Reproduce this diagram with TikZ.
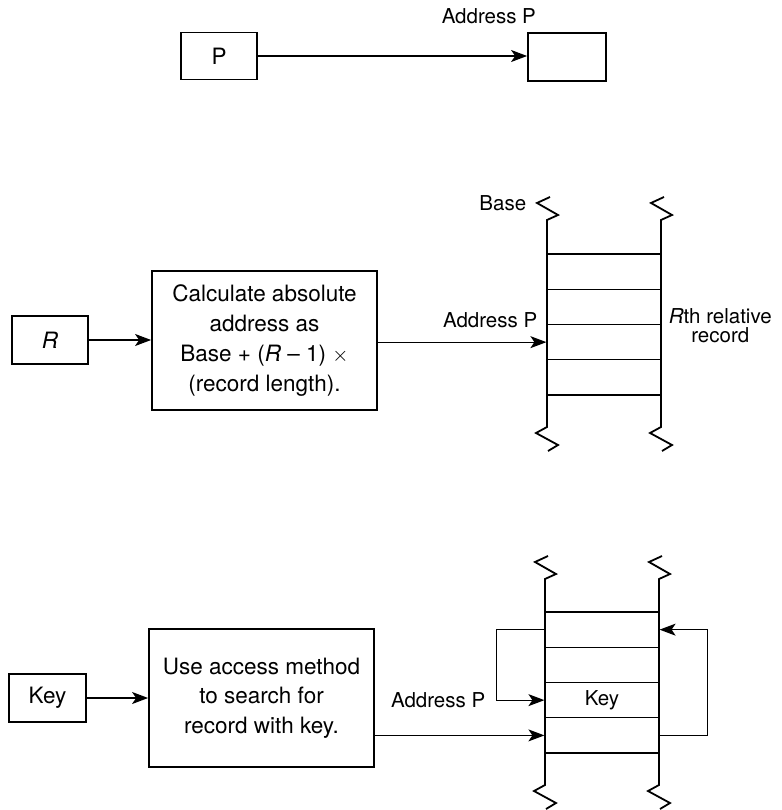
\documentclass[tikz,border=0pt]{standalone}
\usepackage{fontspec}
\setmainfont{TeX Gyre Heros}
\usetikzlibrary{positioning, arrows.meta}

\begin{document}
\begin{tikzpicture}[
    x=1pt, y=-1pt,
    box/.style={draw, line width=1.8pt, inner sep=0pt, align=center, font=\fontsize{22.5}{29.7}\selectfont},
    cell/.style={draw, line width=1.2pt, minimum width=114pt, minimum height=35.25pt, inner sep=0pt},
    conn/.style={line width=1.2pt, -{Stealth[length=16pt, width=12pt, inset=4pt]}},
    strip/.style={line width=1.8pt, line join=miter},
    tag/.style={inner sep=0pt, align=center, font=\fontsize{20.5}{19}\selectfont}
]
    \useasboundingbox (0,0) rectangle (781,810);

    % direct addressing
    \node[box, minimum width=76pt, minimum height=47pt] (pbox) at (219,56) {P};
    \node[box, minimum width=78pt, minimum height=48pt] (ptarget) at (567,57) {};
    \draw[conn] (pbox.east) -- (pbox.east -| ptarget.west);
    \node[tag, anchor=south east] at ([xshift=9pt, yshift=8pt]ptarget.north west) {Address P};

    % relative addressing
    \node[box, minimum width=76pt, minimum height=48pt] (rbox) at (50,340) {\textit{R}};
    \node[box, minimum width=225pt, minimum height=139pt] (calc) at (264.5,340.5)
        {Calculate absolute\\address as\\Base + (\textit{R} – 1) \(\times\)\\(record length).};
    \foreach \i in {1,...,4}
        \node[cell] (m\i) at (604, 236.4+35.25*\i) {};
    \draw[conn] (rbox.east) -- (rbox.east -| calc.west);
    \draw[conn] (calc.east |- m3.west) -- (m3.west);
    \node[tag, anchor=south east] at ([xshift=-9pt, yshift=14pt]m3.west) {Address P};
    \node[tag, anchor=east] at ([xshift=-20pt, yshift=50pt]m1.north west) {Base};
    \node[tag, anchor=west] at ([xshift=7pt, yshift=-2pt]m3.north east) {\textit{R}th relative\\record};

    % indexed access
    \node[box, minimum width=77pt, minimum height=48pt] (keybox) at (47.5,698) {Key};
    \node[box, minimum width=225pt, minimum height=138pt] (search) at (261.5,698)
        {Use access method\\to search for\\record with key.};
    \foreach \i in {1,...,4}
        \node[cell] (k\i) at (602, 594.4+35.25*\i) {};
    \node[tag] (keycell) at (k3) {Key};
    \draw[conn] (keybox) -- (search);
    \draw[conn] (search.east |- k4.west) -- (k4.west);
    \draw[conn] (k1.west) -- ++(-48,0) |- (k3.west);
    \draw[conn] (k4.east) -- ++(48,0) |- (k1.east);
    \node[tag, anchor=east] at ([xshift=-59pt]k3.west) {Address P};

    % storage strips with break marks
    \foreach \x/\ya/\yb in {547/220/427, 661/220/427, 545/579/785, 659/579/785}
        \draw[strip] (\x,\ya) ++(3,-23) -- ++(-13,6) -- ++(21,12) -- ++(-11,5)
            -- (\x,\yb) -- ++(-11,6) -- ++(22,12) -- ++(-10,6);
\end{tikzpicture}
\end{document}
